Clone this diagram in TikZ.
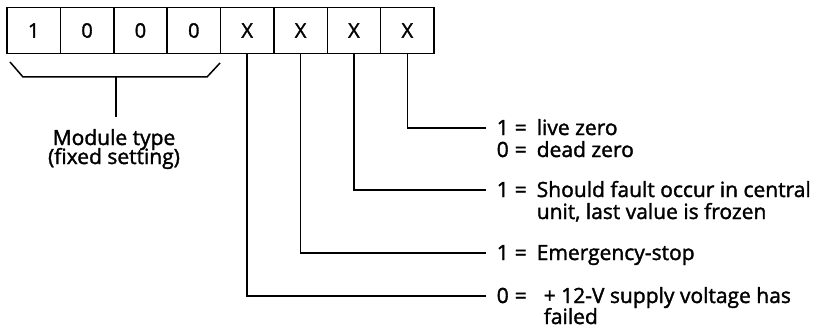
\documentclass[tikz,border=0pt]{standalone}
\usepackage{fontspec}
\newfontfamily\dfont{Open Sans}[FakeBold=1.6]
\begin{document}
\begin{tikzpicture}[x=1pt,y=-1pt,
  line width=1.5pt,
  bitbox/.style={draw, line width=1.5pt, minimum width=53.375pt, minimum height=46pt, inner sep=0pt, font=\dfont\fontsize{20}{21}\selectfont},
  lbl/.style={anchor=base west, inner sep=0pt, font=\dfont\fontsize{21}{22}\selectfont},
  conn/.style={line width=1.5pt}
]
\useasboundingbox (0,0) rectangle (814,329);
\foreach \i/\t in {1/1,2/0,3/0,4/0,5/X,6/X,7/X,8/X}{
  \node[bitbox] (b\i) at ({7+53.375*(\i-0.5)},30.5) {\t};
}
% brace
\coordinate (brL) at (10,62);
\coordinate (brR) at (220,63);
\coordinate (brM) at (116,77);
\coordinate (stemEnd) at (116,117);
\draw[conn, line join=miter] (brL) -- (23,77) -- (207,77) -- (brR);
\draw[conn] (brM) -- (stemEnd);
\node[anchor=base, inner sep=0pt, font=\dfont\fontsize{21}{22}\selectfont] (mod1) at (114,145) {Module type};
\node[anchor=base, inner sep=0pt, font=\dfont\fontsize{21}{22}\selectfont] (mod2) at (114,164) {(fixed setting)};
% connector ends
\coordinate (e8) at (486,128);
\coordinate (e7) at (486,190);
\coordinate (e6) at (486,253);
\coordinate (e5) at (486,296);
\draw[conn] (b8.south) |- (e8);
\draw[conn] (b7.south) |- (e7);
\draw[conn] (b6.south) |- (e6);
\draw[conn] (b5.south) |- (e5);
% labels: keys
\node[lbl] (k8a) at ([xshift=10pt,yshift=-7pt]e8) {1\hspace{6pt}=};
\node[lbl] (k8b) at ([yshift=-22pt]k8a.base west) {0\hspace{6pt}=};
\node[lbl] (k7) at ([xshift=10pt,yshift=-7pt]e7) {1\hspace{6pt}=};
\node[lbl] (k6) at ([xshift=10pt,yshift=-7pt]e6) {1\hspace{6pt}=};
\node[lbl] (k5) at ([xshift=10pt,yshift=-7pt]e5) {0\hspace{6pt}=};
% labels: texts
\node[lbl] (t8a) at ([xshift=40pt]k8a.base west) {live zero};
\node[lbl] (t8b) at ([xshift=40pt]k8b.base west) {dead zero};
\node[lbl] (t7a) at ([xshift=40pt]k7.base west) {Should fault occur in central};
\node[lbl] (t7b) at ([yshift=-22pt]t7a.base west) {unit, last value is frozen};
\node[lbl] (t6) at ([xshift=40pt]k6.base west) {Emergency-stop};
\node[lbl] (t5a) at ([xshift=47pt]k5.base west) {+ 12-V supply voltage has};
\node[lbl] (t5b) at ([yshift=-21pt]t5a.base west) {failed};
\end{tikzpicture}
\end{document}
